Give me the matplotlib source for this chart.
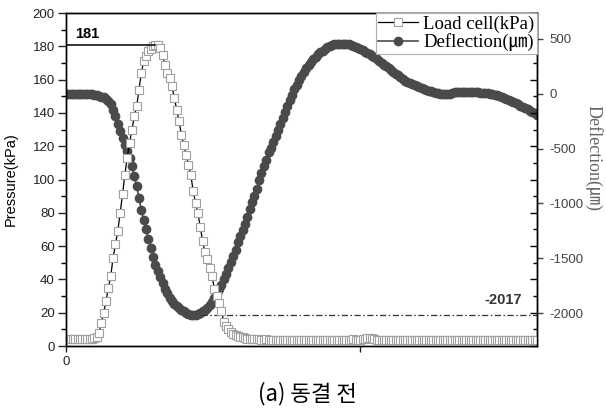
import numpy as np
import matplotlib.pyplot as plt
from matplotlib.ticker import MultipleLocator
from matplotlib.font_manager import FontProperties

plt.rcParams['axes.unicode_minus'] = False
plt.rcParams['font.family'] = ['Liberation Sans', 'DejaVu Sans']

DT = 0.04  # sampling interval (s)

# load cell pressure (kPa), one value per sample
load_cell = [
    4.2, 4.3, 4.2, 4.1, 4.2, 4.3, 4.2, 4.2, 4.1, 4.2,
    4.3, 4.3, 4.8, 5.6, 8.0, 14.0, 20.0, 27.0, 35.0, 42.0,
    53.0, 61.0, 69.0, 80.0, 91.0, 103.0, 113.0, 122.0, 130.0, 138.0,
    144.0, 154.0, 164.0, 171.0, 174.0, 177.0, 178.5, 180.0, 181.0, 180.5,
    179.0, 175.0, 169.0, 164.0, 161.0, 156.0, 149.0, 142.0, 135.0, 127.0,
    120.5, 115.0, 109.0, 103.0, 93.0, 86.0, 80.0, 71.7, 63.0, 56.5,
    52.0, 47.0, 42.0, 34.5, 30.0, 26.0, 21.0, 14.5, 12.3, 10.0,
    8.3, 7.4, 6.5, 6.0, 5.6, 5.2, 4.8, 4.5, 4.3, 4.2,
    4.1, 4.0, 4.0, 3.9, 3.9, 4.0, 3.9, 3.8, 3.9, 3.9,
    3.8, 3.8, 3.9, 3.8, 3.8, 3.7, 3.8, 3.8, 3.9, 3.8,
    3.8, 3.9, 3.8, 3.7, 3.8, 3.8, 3.8, 3.9, 3.8, 3.8,
    3.8, 3.7, 3.8, 3.8, 3.9, 3.8, 3.8, 3.8, 3.9, 3.8,
    3.8, 3.9, 4.0, 3.9, 3.8, 3.9, 4.0, 4.3, 4.8, 5.0,
    4.6, 4.1, 3.9, 3.8, 3.8, 3.7, 3.7, 3.8, 3.7, 3.7,
    3.6, 3.7, 3.7, 3.6, 3.7, 3.7, 3.6, 3.6, 3.7, 3.6,
    3.6, 3.7, 3.6, 3.6, 3.6, 3.7, 3.6, 3.6, 3.6, 3.7,
    3.6, 3.6, 3.7, 3.6, 3.6, 3.6, 3.7, 3.6, 3.6, 3.6,
    3.7, 3.6, 3.6, 3.6, 3.7, 3.6, 3.6, 3.7, 3.6, 3.6,
    3.6, 3.7, 3.6, 3.6, 3.6, 3.7, 3.6, 3.6, 3.7, 3.6,
    3.6, 3.6, 3.7, 3.6, 3.6, 3.6, 3.7, 3.6, 3.6, 3.7,
    3.6,
]

# pavement deflection (um), same samples
deflection = [
    -5, -5, -5, -5, -5, -5, -5, -5, -5, -5,
    -5, -6, -8, -12, -18, -25, -33, -45, -65, -95,
    -145, -205, -275, -335, -400, -467, -525, -585, -660, -745,
    -840, -950, -1060, -1150, -1237, -1322, -1408, -1490, -1560, -1615,
    -1670, -1728, -1780, -1820, -1862, -1890, -1915, -1938, -1955, -1970,
    -1985, -1997, -2007, -2013, -2017, -2016, -2010, -1998, -1985, -1970,
    -1955, -1925, -1895, -1860, -1820, -1780, -1740, -1690, -1645, -1590,
    -1535, -1480, -1420, -1355, -1293, -1240, -1185, -1120, -1050, -985,
    -930, -870, -790, -720, -660, -605, -535, -490, -435, -385,
    -330, -275, -220, -165, -110, -60, -15, 40, 85, 130,
    165, 200, 235, 265, 292, 318, 340, 360, 380, 395,
    410, 425, 437, 445, 450, 454, 456, 457, 456, 454,
    450, 445, 440, 430, 420, 408, 397, 385, 372, 360,
    348, 335, 318, 300, 283, 265, 250, 235, 218, 202,
    185, 168, 152, 136, 121, 108, 97, 88, 80, 72,
    64, 55, 46, 38, 30, 22, 16, 10, 5, 0,
    -3, -5, -5, 2, 10, 13, 14, 15, 15, 15,
    15, 15, 15, 15, 15, 14, 12, 10, 7, 4,
    0, -4, -9, -15, -22, -30, -38, -46, -56, -66,
    -75, -86, -97, -107, -118, -128, -140, -153, -166, -178,
    -190,
]

PEAK_LOAD = 181
MIN_DEFL = -2017

time = np.arange(len(load_cell)) * DT

serif_family = ['Liberation Serif', 'Noto Sans CJK KR']
legend_font = FontProperties(family=serif_family, size=13.5)
label_font = FontProperties(family=serif_family, size=13)

fig = plt.figure(figsize=(6.06, 4.13), dpi=100)
ax = fig.add_axes([0.1089, 0.1622, 0.7772, 0.8063])
ax2 = ax.twinx()
ax.set_zorder(ax2.get_zorder() + 1)
ax.patch.set_visible(False)

l2, = ax2.plot(time, deflection, '-o', color='#4a4a4a', lw=1.2, ms=7,
               mec='#4a4a4a', mew=0)
l1, = ax.plot(time, load_cell, '-s', color='black', lw=0.9, ms=5.3,
              mfc='white', mec='#a0a0a0', mew=0.8)

# peak / minimum markers
t_peak = time[int(np.argmax(load_cell))]
ax.plot([0, t_peak], [PEAK_LOAD, PEAK_LOAD], color='black', lw=1.1)
ax.text(0.36, PEAK_LOAD + 2, f'{PEAK_LOAD}', ha='center', va='bottom',
        fontsize=10.5, fontweight='bold')
ax2.plot([2.3, 8.0], [MIN_DEFL, MIN_DEFL], color='#333333', lw=0.9,
         dashes=(5, 2, 1.2, 2))
ax2.text(7.75, MIN_DEFL + 70, f'{MIN_DEFL}', ha='right', va='bottom',
         fontsize=10.5, fontweight='bold', color='#333333')

ax.set_xlim(0, 8.0)
ax.set_ylim(0, 200)
ax2.set_ylim(-2300, 737)

ax.set_xticks([0, 5])
ax.set_xticklabels(['0', ''])
ax.yaxis.set_major_locator(MultipleLocator(20))
ax.yaxis.set_minor_locator(MultipleLocator(10))
ax.tick_params(axis='y', which='major', direction='out', length=6, width=1,
               labelsize=9.5, pad=2, colors='#222222')
ax.tick_params(axis='y', which='minor', direction='out', length=3.5, width=1)
ax.tick_params(axis='x', direction='out', length=4, width=1, labelsize=9.5,
               pad=3, colors='#222222')

ax2.yaxis.set_major_locator(MultipleLocator(500))
ax2.tick_params(axis='y', direction='out', length=4, width=1, labelsize=9.5,
                pad=5, colors='#444444')

# left-axis ticks repeated inside the right spine
sec = ax.secondary_yaxis('right')
sec.yaxis.set_major_locator(MultipleLocator(20))
sec.yaxis.set_minor_locator(MultipleLocator(10))
sec.tick_params(which='major', direction='in', length=5, width=1, labelright=False)
sec.tick_params(which='minor', direction='in', length=3, width=1)

for a in (ax, ax2):
    for s in a.spines.values():
        s.set_linewidth(1.0)

ax.set_ylabel('Pressure(kPa)', fontsize=10.5)
ax.yaxis.set_label_coords(-0.102, 0.5)
ax2.set_ylabel('Deflection(㎛)', fontproperties=label_font, rotation=270,
               color='#666666', va='center', ha='center')
ax2.yaxis.set_label_coords(1.12, 0.565)

leg = ax.legend([l1, l2], ['Load cell(kPa)', 'Deflection(㎛)'], loc='upper right',
                bbox_to_anchor=(1, 1), prop=legend_font, fancybox=False,
                edgecolor='#b0b0b0', framealpha=1, borderaxespad=0,
                borderpad=0.12, labelspacing=0.05, handlelength=2.1,
                handletextpad=0.3, numpoints=1)
leg.get_frame().set_linewidth(0.8)

fig.text(0.507, 1 - 394 / 413, '(a) 동결 전', ha='center', va='center',
         fontsize=16, family=['Noto Sans CJK KR', 'DejaVu Sans'])

fig.savefig('out.png', dpi=100)
